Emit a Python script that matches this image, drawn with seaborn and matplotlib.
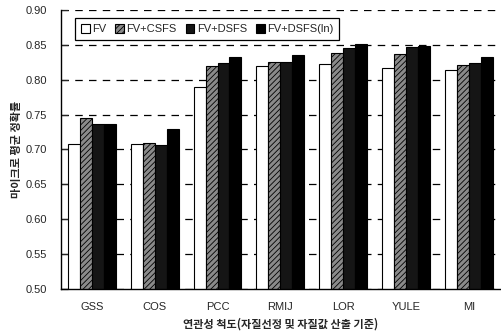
import matplotlib
matplotlib.use("Agg")
import matplotlib.pyplot as plt
import seaborn as sns
import pandas as pd

# Association measures and micro-averaged accuracy per feature setting
measures = ["GSS", "COS", "PCC", "RMIJ", "LOR", "YULE", "MI"]
fv = [0.708, 0.708, 0.789, 0.819, 0.822, 0.817, 0.814]
fv_csfs = [0.745, 0.710, 0.819, 0.826, 0.839, 0.837, 0.821]
fv_dsfs = [0.737, 0.707, 0.824, 0.825, 0.846, 0.847, 0.824]
fv_dsfs_ln = [0.737, 0.729, 0.833, 0.836, 0.851, 0.848, 0.832]
series_names = ["FV", "FV+CSFS", "FV+DSFS", "FV+DSFS(ln)"]
y_ticks = [0.50, 0.55, 0.60, 0.65, 0.70, 0.75, 0.80, 0.85, 0.90]

rows = []
for name, vals in zip(series_names, [fv, fv_csfs, fv_dsfs, fv_dsfs_ln]):
    for m, v in zip(measures, vals):
        rows.append({"measure": m, "setting": name, "acc": v})
df = pd.DataFrame(rows)

sns.set_theme(style="white")
plt.rcParams["font.family"] = ["Liberation Sans", "Noto Sans CJK KR"]
plt.rcParams["hatch.linewidth"] = 0.6

fig = plt.figure(figsize=(5.02, 3.32), dpi=100)
ax = fig.add_axes([0.1215, 0.1295, 0.8765, 0.8405])

# dashed guide lines sit behind the bars
for t in y_ticks:
    ax.axhline(t, color="black", lw=0.9, ls=(0, (6, 5)), zorder=0)

face = {"FV": "white", "FV+CSFS": "#8a8a8a", "FV+DSFS": "#151515", "FV+DSFS(ln)": "black"}
hatch = {"FV": "", "FV+CSFS": "//////", "FV+DSFS": "", "FV+DSFS(ln)": ""}

sns.barplot(data=df, x="measure", y="acc", hue="setting", order=measures,
            hue_order=series_names, palette=face, width=0.76, gap=0,
            edgecolor="black", linewidth=0.8, ax=ax, zorder=2, legend=True)

for name, cont in zip(series_names, ax.containers):
    for p in cont.patches:
        p.set_facecolor(face[name])
        p.set_edgecolor("black")
        p.set_hatch(hatch[name])

ax.set_ylim(0.5, 0.9)
ax.set_xlim(-0.49, 6.51)
ax.set_yticks(y_ticks)
ax.set_yticklabels([f"{t:.2f}" for t in y_ticks], fontsize=8)
ax.tick_params(axis="y", direction="in", length=5, width=0.9, left=True, pad=10)
ax.tick_params(axis="x", length=0, pad=9, labelsize=8)

for side in ["top", "right"]:
    ax.spines[side].set_visible(False)
for side in ["left", "bottom"]:
    ax.spines[side].set_color("black")
    ax.spines[side].set_linewidth(1.0)

ax.set_ylabel("마이크로 평균 정확률", fontsize=8, fontweight="bold",
              family=["Noto Sans CJK KR"], labelpad=2)
ax.set_xlabel("연관성 척도(자질선정 및 자질값 산출 기준)", fontsize=8,
              fontweight="bold", family=["Noto Sans CJK KR"], labelpad=4)

handles, labels = ax.get_legend_handles_labels()
for h, name in zip(handles, series_names):
    h.set_facecolor(face[name])
    h.set_edgecolor("black")
    h.set_hatch(hatch[name])
leg = ax.legend(handles, labels, ncol=4, loc="upper left",
                bbox_to_anchor=(0.032, 0.971), fontsize=8, frameon=True,
                fancybox=False, handlelength=0.8, handleheight=0.8,
                handletextpad=0.2, columnspacing=0.8, borderpad=0.55,
                borderaxespad=0)
leg.get_frame().set_edgecolor("black")
leg.get_frame().set_linewidth(0.9)
leg.get_frame().set_alpha(1)

fig.savefig("out.png", dpi=100)
